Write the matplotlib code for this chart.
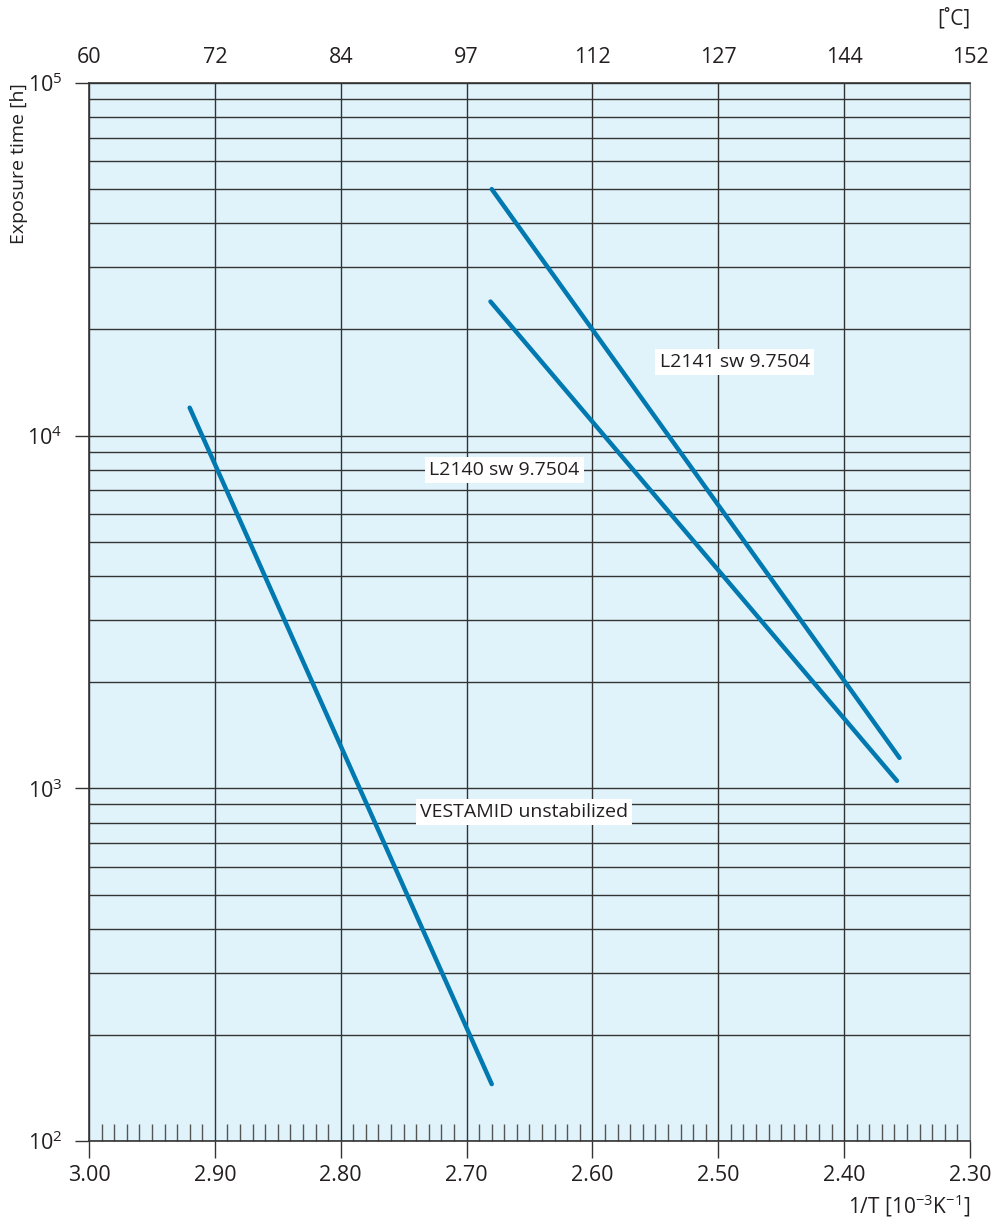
import numpy as np
import matplotlib.pyplot as plt
from matplotlib.ticker import MultipleLocator, FixedLocator, NullFormatter, LogLocator

plt.rcParams['font.family'] = ['Open Sans', 'DejaVu Sans']
plt.rcParams['mathtext.fontset'] = 'custom'
plt.rcParams['mathtext.rm'] = 'Open Sans'
plt.rcParams['mathtext.it'] = 'Open Sans'

# curve end points: 1/T [1e-3 1/K] and exposure time [h]
vest_x = [2.92, 2.68]
vest_y = [1.2e4, 145]
l2141_x = [2.68, 2.356]
l2141_y = [5.0e4, 1.22e3]
l2140_x = [2.681, 2.358]
l2140_y = [2.4e4, 1.05e3]

# label positions (data coordinates)
labels = ["L2141 sw 9.7504", "L2140 sw 9.7504", "VESTAMID unstabilized"]
label_x = [2.487, 2.670, 2.6545]
label_y = [1.62e4, 8.0e3, 857]

# bottom and top scales
inv_t_ticks = [3.00, 2.90, 2.80, 2.70, 2.60, 2.50, 2.40, 2.30]
temp_labels = ["60", "72", "84", "97", "112", "127", "144", "152"]

txt = '#231f20'
grid_c = '#333333'
line_c = '#0078b0'

fig = plt.figure(figsize=(9.91, 12.18), dpi=100)
ax = fig.add_axes([0.0898, 0.0632, 0.8890, 0.8687])
ax.set_facecolor('#e0f2fa')

ax.plot(vest_x, vest_y, color=line_c, lw=3.2, solid_capstyle='round', zorder=3)
ax.plot(l2141_x, l2141_y, color=line_c, lw=3.2, solid_capstyle='round', zorder=3)
ax.plot(l2140_x, l2140_y, color=line_c, lw=3.2, solid_capstyle='round', zorder=3)

for s, x, y in zip(labels, label_x, label_y):
    ax.text(x, y, s, ha='center', va='center', fontsize=14, color=txt, zorder=4,
            bbox=dict(fc='white', ec='none', pad=3))

ax.set_yscale('log')
ax.set_ylim(1e2, 1e5)
ax.set_xlim(3.00, 2.30)

ax.xaxis.set_major_locator(FixedLocator(inv_t_ticks))
ax.set_xticklabels([f"{v:.2f}" for v in inv_t_ticks])
ax.xaxis.set_minor_locator(MultipleLocator(0.01))
ax.tick_params(axis='x', which='major', direction='out', length=12, width=1,
               color=grid_c, labelsize=15.5, labelcolor=txt, pad=5)
ax.tick_params(axis='x', which='minor', direction='in', length=12, width=1, color='#555555')

ax.yaxis.set_major_locator(LogLocator(base=10, numticks=10))
ax.yaxis.set_minor_locator(LogLocator(base=10, subs=np.arange(2, 10), numticks=10))
ax.yaxis.set_minor_formatter(NullFormatter())
ax.tick_params(axis='y', which='major', direction='out', length=10, width=1,
               color=grid_c, labelsize=15.5, labelcolor=txt, pad=9)
ax.tick_params(axis='y', which='minor', length=0)

ax.grid(axis='x', which='major', color=grid_c, lw=1)
ax.grid(axis='y', which='both', color=grid_c, lw=1)
ax.set_axisbelow(True)

for side in ['left', 'bottom', 'top']:
    ax.spines[side].set_color(grid_c)
    ax.spines[side].set_linewidth(1.2)
ax.spines['right'].set_color('#777777')

# temperature scale on top
top = ax.secondary_xaxis('top')
top.set_xticks(inv_t_ticks)
top.set_xticklabels(temp_labels)
top.tick_params(length=0, labelsize=15.5, labelcolor=txt, pad=11)
top.spines['top'].set_visible(False)

ax.text(1.0, 1.061, "[˚C]", transform=ax.transAxes, ha='right', va='center',
        fontsize=15, color=txt)
ax.text(-0.079, 1.0, "Exposure time [h]", transform=ax.transAxes, rotation=90,
        ha='center', va='top', fontsize=14, color=txt)
ax.text(1.0, -0.061, r"1/T [10$^{-3}$K$^{-1}$]", transform=ax.transAxes,
        ha='right', va='center', fontsize=15, color=txt)

fig.savefig('out.png', dpi=100)
